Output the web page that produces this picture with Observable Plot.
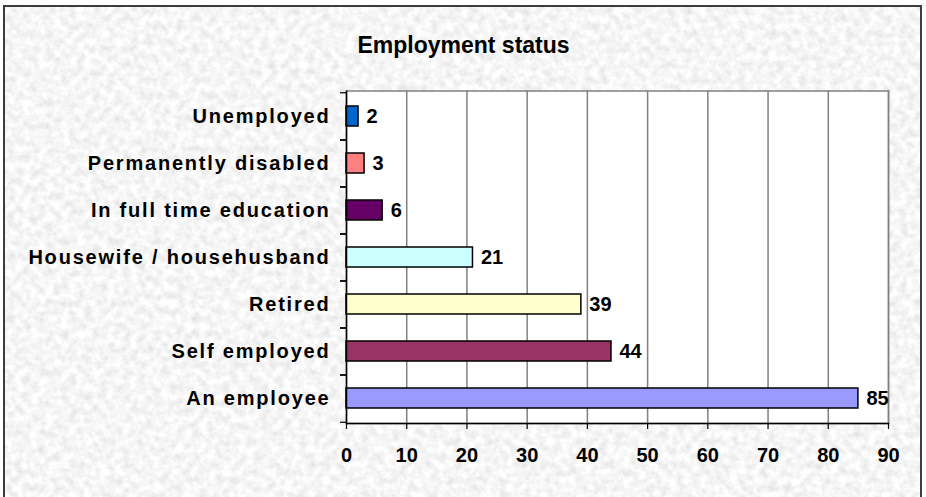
<!DOCTYPE html>
<html>
<head>
<meta charset="utf-8">
<script src="https://cdn.jsdelivr.net/npm/d3@7"></script>
<script src="https://cdn.jsdelivr.net/npm/@observablehq/plot@0.6"></script>
<style>
  html, body { margin: 0; padding: 0; background: #fff; overflow: hidden; }
  #wrap { position: relative; width: 926px; height: 497px; }
  #bg { position: absolute; left: 0; top: 0; }
  #border { position: absolute; left: 3px; top: 5px; width: 915px; height: 510px; border: 2px solid #3c3c3c; box-sizing: content-box; }
  #chart { position: absolute; left: 0; top: 0; }
</style>
</head>
<body>
<div id="wrap">
  <svg id="bg" width="926" height="497">
    <defs>
      <filter id="marble" x="0" y="0" width="100%" height="100%">
        <feTurbulence type="fractalNoise" baseFrequency="0.13" numOctaves="4" seed="7"/>
        <feColorMatrix type="matrix" values="0.38 0 0 0 0.73  0.38 0 0 0 0.73  0.38 0 0 0 0.73  0 0 0 0 1"/>
      </filter>
    </defs>
    <rect x="4" y="6" width="917" height="491" filter="url(#marble)"/>
  </svg>
  <div id="chart"></div>
  <div id="border"></div>
</div>
<script>
const title = "Employment status";
const categories = ["Unemployed", "Permanently disabled", "In full time education", "Housewife / househusband", "Retired", "Self employed", "An employee"];
const values = [2, 3, 6, 21, 39, 44, 85];
const colors = ["#0066CC", "#FF8080", "#660066", "#CCFFFF", "#FFFFCC", "#993366", "#9999FF"];
const xTicks = [0, 10, 20, 30, 40, 50, 60, 70, 80, 90];

const data = categories.map((c, i) => ({cat: c, value: values[i], color: colors[i]}));

const W = 926, H = 497;
const mTop = 90.5, mBottom = 74, mLeft = 346, mRight = 38;
const step = (H - mTop - mBottom) / categories.length;

const chart = Plot.plot({
  width: W,
  height: H,
  marginTop: mTop,
  marginBottom: mBottom,
  marginLeft: mLeft,
  marginRight: mRight,
  style: {background: "transparent", fontFamily: "'Liberation Sans', Arial, sans-serif", fontWeight: "bold", color: "#000"},
  x: {domain: [0, 90], label: null},
  y: {domain: categories, paddingInner: 0.58, paddingOuter: 0.29, label: null},
  color: {type: "identity"},
  marks: [
    Plot.frame({fill: "white", stroke: "#808080", strokeWidth: 1.5}),
    Plot.gridX(xTicks.slice(1), {stroke: "#808080", strokeOpacity: 1, strokeWidth: 1.5}),
    Plot.barX(data, {y: "cat", x: "value", fill: "color", stroke: "#000", strokeWidth: 1.5}),
    Plot.text(data, {y: "cat", x: "value", text: d => String(d.value), textAnchor: "start", dx: 8, fontSize: 20, fontWeight: "bold", fill: "#000"}),
    Plot.ruleX([0], {stroke: "#000", strokeWidth: 1.5}),
    Plot.frame({anchor: "bottom", stroke: "#000", strokeWidth: 1.5}),
    Plot.axisX(xTicks, {tickSize: 6, tickPadding: 18, fontSize: 20, label: null, stroke: "#000", strokeWidth: 1.2}),
    Plot.axisY({tickSize: 6, fill: "none", stroke: "#000", strokeWidth: 1.2, dy: -step / 2, label: null}),
    Plot.axisY({tickSize: 6, fill: "none", stroke: "#000", strokeWidth: 1.2, dy: step / 2, label: null}),
    Plot.axisY({tickSize: 0, tickPadding: 16, fontSize: 20, label: null}),
    Plot.text([title], {text: d => d, frameAnchor: "top", dx: 463 - (mLeft + (W - mLeft - mRight) / 2), dy: 36 - mTop, fontSize: 23, fontWeight: "bold", fill: "#000"})
  ]
});
document.getElementById("chart").appendChild(chart);
// letter spacing for category labels (the left axis labels are right-aligned text)
d3.select(chart).selectAll("text").filter(function() {
  return categories.includes(this.textContent);
}).style("letter-spacing", "1.8px");
</script>
</body>
</html>
